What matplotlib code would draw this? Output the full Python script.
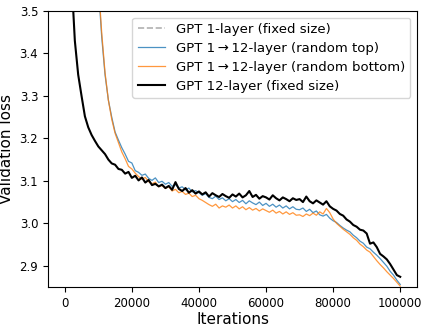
import numpy as np
import matplotlib
matplotlib.use("Agg")
import matplotlib.pyplot as plt

# ==================== data ====================
# validation loss, logged every 1000 iterations

iters_12 = list(range(1000, 100001, 1000))
loss_12 = [
    4.00, 3.58, 3.43, 3.35, 3.30, 3.252, 3.226, 3.208, 3.194, 3.181,
    3.172, 3.163, 3.150, 3.141, 3.138, 3.128, 3.126, 3.117, 3.121, 3.107,
    3.112, 3.101, 3.108, 3.096, 3.102, 3.090, 3.093, 3.087, 3.091, 3.083,
    3.088, 3.079, 3.097, 3.081, 3.076, 3.083, 3.072, 3.078, 3.070, 3.075,
    3.068, 3.073, 3.063, 3.071, 3.066, 3.062, 3.069, 3.064, 3.060, 3.068,
    3.063, 3.070, 3.061, 3.066, 3.076, 3.062, 3.067, 3.058, 3.064, 3.061,
    3.056, 3.066, 3.059, 3.054, 3.061, 3.057, 3.052, 3.059, 3.055, 3.057,
    3.050, 3.063, 3.052, 3.047, 3.054, 3.049, 3.044, 3.052, 3.040, 3.034,
    3.030, 3.022, 3.018, 3.009, 3.004, 2.996, 2.992, 2.985, 2.983, 2.976,
    2.952, 2.955, 2.944, 2.928, 2.922, 2.915, 2.904, 2.891, 2.878, 2.874,
]

iters_grow = list(range(10000, 100001, 1000))
loss_top = [
    3.56, 3.44, 3.35, 3.29, 3.25, 3.215, 3.196, 3.178, 3.163, 3.146,
    3.142, 3.124, 3.120, 3.113, 3.116, 3.106, 3.101, 3.107, 3.096, 3.099,
    3.092, 3.096, 3.087, 3.091, 3.083, 3.086, 3.079, 3.083, 3.074, 3.077,
    3.072, 3.066, 3.070, 3.061, 3.058, 3.064, 3.056, 3.060, 3.053, 3.058,
    3.051, 3.056, 3.049, 3.054, 3.046, 3.053, 3.048, 3.044, 3.050, 3.042,
    3.047, 3.040, 3.045, 3.038, 3.043, 3.036, 3.041, 3.034, 3.039, 3.033,
    3.032, 3.036, 3.028, 3.033, 3.025, 3.029, 3.020, 3.017, 3.021, 3.012,
    3.006, 3.002, 2.995, 2.989, 2.984, 2.980, 2.972, 2.966, 2.958, 2.953,
    2.944, 2.940, 2.932, 2.925, 2.917, 2.908, 2.899, 2.887, 2.878, 2.866,
    2.856,
]
loss_bottom = [
    3.57, 3.45, 3.355, 3.29, 3.245, 3.212, 3.190, 3.168, 3.152, 3.134,
    3.128, 3.118, 3.110, 3.104, 3.108, 3.098, 3.093, 3.097, 3.086, 3.089,
    3.082, 3.086, 3.076, 3.080, 3.072, 3.075, 3.068, 3.071, 3.063, 3.066,
    3.058, 3.054, 3.049, 3.044, 3.040, 3.045, 3.036, 3.041, 3.038, 3.043,
    3.036, 3.041, 3.034, 3.039, 3.032, 3.037, 3.031, 3.035, 3.029, 3.034,
    3.030, 3.026, 3.031, 3.024, 3.028, 3.022, 3.027, 3.021, 3.025, 3.019,
    3.020, 3.016, 3.022, 3.018, 3.024, 3.019, 3.027, 3.022, 3.035, 3.025,
    3.010, 3.000, 2.993, 2.986, 2.980, 2.974, 2.966, 2.960, 2.951, 2.945,
    2.937, 2.932, 2.922, 2.912, 2.903, 2.895, 2.886, 2.878, 2.870, 2.861,
    2.852,
]

# 1-layer model stays above the visible range
iters_1 = [1000, 20000, 40000, 60000, 80000, 100000]
loss_1 = [4.60, 3.95, 3.88, 3.84, 3.78, 3.70]

labels = [
    "GPT 1-layer (fixed size)",
    "GPT 1\u2009\u2192\u200912-layer (random top)",
    "GPT 1\u2009\u2192\u200912-layer (random bottom)",
    "GPT 12-layer (fixed size)",
]

# ==================== plot ====================
fig = plt.figure(figsize=(4.28, 3.29), dpi=100)
ax = fig.add_axes([48 / 428, 42 / 329, 369 / 428, 276 / 329])

ax.plot(iters_1, loss_1, color="#b0b0b0", ls="--", lw=1.2, label=labels[0])
ax.plot(iters_grow, loss_top, color="#1f77b4", lw=0.9, alpha=0.8, label=labels[1])
ax.plot(iters_grow, loss_bottom, color="#ff7f0e", lw=0.9, alpha=0.8, label=labels[2])
ax.plot(iters_12, loss_12, color="black", lw=1.5, label=labels[3])

ax.set_xlim(-5000, 105000)
ax.set_ylim(2.85, 3.5)
ax.set_xticks([0, 20000, 40000, 60000, 80000, 100000])
ax.set_yticks([2.9, 3.0, 3.1, 3.2, 3.3, 3.4, 3.5])
ax.tick_params(labelsize=8.5)
ax.set_xlabel("Iterations", fontsize=11, labelpad=2)
ax.set_ylabel("Validation loss", fontsize=11)

ax.legend(loc="upper right", fontsize=9.5, handlelength=2.1, borderaxespad=0.5,
          labelspacing=0.45)

fig.savefig("out.png", dpi=100)
